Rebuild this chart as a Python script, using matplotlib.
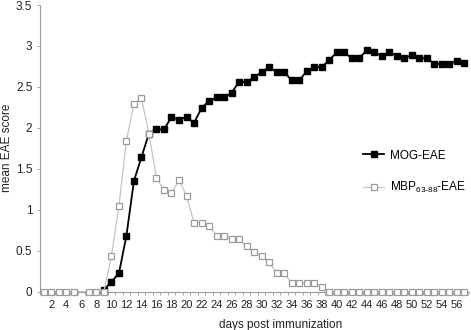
import numpy as np
import matplotlib
matplotlib.use('Agg')
from matplotlib import pyplot as plt

plt.rcParams['font.family'] = ['Liberation Sans', 'DejaVu Sans']
plt.rcParams['mathtext.fontset'] = 'custom'
plt.rcParams['mathtext.rm'] = 'Liberation Sans'

# MOG-EAE: scored from day 9 on
mog_days = list(range(9, 58))
mog_score = [0.02, 0.12, 0.22, 0.68, 1.35, 1.64, 1.93, 1.98, 1.98, 2.13,
             2.10, 2.13, 2.06, 2.24, 2.33, 2.37, 2.37, 2.43, 2.56, 2.56,
             2.62, 2.68, 2.74, 2.68, 2.68, 2.58, 2.58, 2.69, 2.74, 2.74,
             2.83, 2.92, 2.92, 2.85, 2.85, 2.95, 2.92, 2.88, 2.92, 2.88,
             2.85, 2.89, 2.85, 2.85, 2.78, 2.78, 2.78, 2.82, 2.79]

# MBP63-88-EAE: no value on day 6
mbp_days = [1, 2, 3, 4, 5] + list(range(7, 58))
mbp_score = [0, 0, 0, 0, 0,
             0, 0, 0, 0.43, 1.04, 1.84, 2.29, 2.36, 1.93, 1.39,
             1.24, 1.20, 1.36, 1.17, 0.84, 0.84, 0.80, 0.68, 0.68, 0.64,
             0.64, 0.55, 0.48, 0.43, 0.36, 0.23, 0.23, 0.10, 0.10, 0.10,
             0.10, 0.05] + [0] * 19

day_ticks = list(range(2, 57, 2))
y_ticks = [0, 0.5, 1, 1.5, 2, 2.5, 3, 3.5]
y_labels = ['0', '0.5', '1', '1.5', '2', '2.5', '3', '3.5']

fig = plt.figure(figsize=(4.71, 3.30), dpi=100)
ax = fig.add_axes([40/471, 38.5/330, 429/471, 286.5/330])

ax.plot(mog_days, mog_score, color='black', lw=1.3, marker='s', ms=4.3,
        mfc='black', mec='black', clip_on=False, label='MOG-EAE', zorder=3)
ax.plot(mbp_days, mbp_score, color='#c4c4c4', lw=0.9, marker='s', ms=4.3,
        mfc='white', mec='#9a9a9a', mew=0.9, clip_on=False,
        label=r'MBP$_{\text{63-88}}$-EAE', zorder=4)

ax.set_xlim(0.5, 57.6)
ax.set_ylim(0, 3.5)

ax.set_xticks(day_ticks)
ax.set_xticklabels([str(d) for d in day_ticks])
ax.set_xticks(np.arange(0.5, 57.6, 1), minor=True)
ax.tick_params(axis='x', which='major', length=0, pad=6, labelsize=8,
               colors='#222222')
ax.tick_params(axis='x', which='minor', length=2.5, width=0.6,
               color='#9a9a9a')
ax.set_yticks(y_ticks)
ax.set_yticklabels(y_labels)
ax.tick_params(axis='y', length=2.5, width=0.6, color='#9a9a9a', pad=3,
               labelsize=8.5, labelcolor='#222222')

for s in ['top', 'right']:
    ax.spines[s].set_visible(False)
for s in ['left', 'bottom']:
    ax.spines[s].set_color('#9a9a9a')
    ax.spines[s].set_linewidth(0.8)

ax.set_xlabel('days post immunization', fontsize=8.5, color='#222222')
ax.xaxis.set_label_coords(0.56, -0.095)
ax.set_ylabel('mean EAE score', fontsize=8.5, color='#222222', labelpad=2)

ax.legend(loc='center left', bbox_to_anchor=(363/471, 1 - 172.5/330),
          bbox_transform=fig.transFigure, frameon=False, fontsize=8.5,
          handlelength=1.8, handletextpad=0.5, labelspacing=1.6,
          borderpad=0, borderaxespad=0)

fig.savefig('out.png', dpi=100)
